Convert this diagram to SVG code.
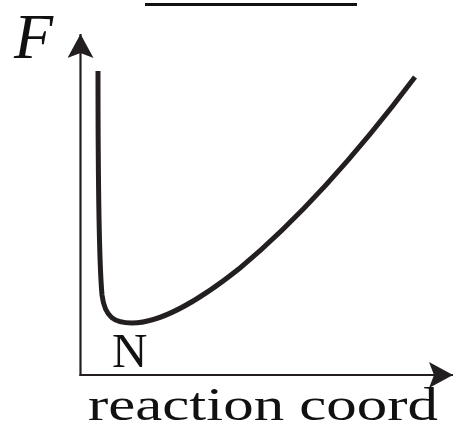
<svg xmlns="http://www.w3.org/2000/svg" width="453" height="429" viewBox="0 0 453 429">
<style>
.axis{stroke:#231f20;stroke-width:2.2;fill:none}
.curve{stroke:#231f20;stroke-width:5;fill:none;stroke-linecap:butt}
.lbl{font-family:"Liberation Serif","DejaVu Serif",serif;fill:#111}
</style>
<defs>
<marker id="ah" viewBox="0 0 24 26" refX="24" refY="13" markerWidth="24" markerHeight="26" markerUnits="userSpaceOnUse" orient="auto">
<path d="M0,0 L24,13 L0,26 L5,13 Z" fill="#231f20"/>
</marker>
</defs>
<rect width="453" height="429" fill="#fff"/>
<line x1="145" y1="4.5" x2="357" y2="4.5" stroke="#111" stroke-width="3"/>
<g id="connectors">
<line class="axis" x1="80.5" y1="376" x2="80.5" y2="34" marker-end="url(#ah)"/>
<line class="axis" x1="79.5" y1="375" x2="453" y2="375" marker-end="url(#ah)"/>
</g>
<g id="curve">
<path class="curve" d="M98,71 C98,150 98,250 102,295 C105,318 115,323 132,323 C160,323 200,300 240,268 C300,218 360,150 415,77"/>
</g>
<g id="label-F"><text class="lbl" x="14" y="58" font-size="64" font-style="italic">F</text></g>
<g id="label-N"><text class="lbl" x="112" y="367" font-size="49">N</text></g>
<g id="label-x"><text class="lbl" x="88" y="420" font-size="47" textLength="350" lengthAdjust="spacingAndGlyphs">reaction coord</text></g>
</svg>
